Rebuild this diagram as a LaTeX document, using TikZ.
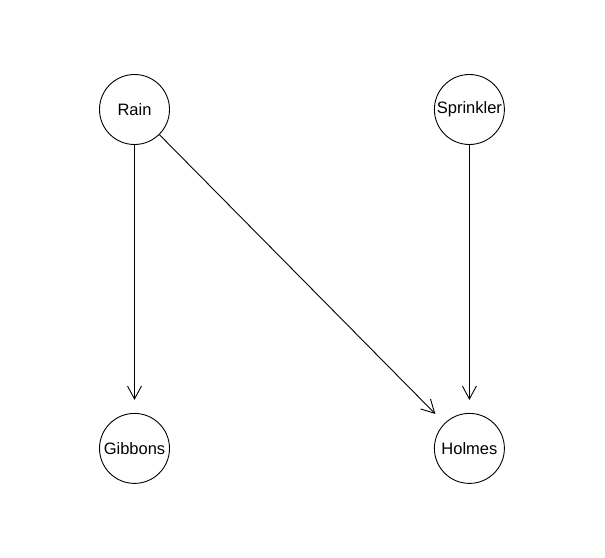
\documentclass[tikz,border=0pt]{standalone}
\usepackage{fontspec}
\setmainfont{Liberation Sans}
\usetikzlibrary{positioning,arrows.meta}

\begin{document}
\begin{tikzpicture}
[var/.style={draw,circle,line width=0.9pt,minimum size=70pt,inner sep=0pt,
    font=\fontsize{16.5}{19}\selectfont},
 dep/.style={-{Straight Barb[length=13pt,width=14pt]},line width=0.9pt,shorten >=13pt}]
\useasboundingbox (-134.5pt,-447.5pt) rectangle (470.5pt,109.5pt);
\node[var](rain) at (0,0){Rain};
\node[var, right =264pt of rain](sprinkler){Sprinkler};
\node[var, below =268pt of rain](gibbons){Gibbons};
\node[var, below =268pt of sprinkler](holmes){Holmes};
\path (rain) edge[dep] (gibbons);
\path (rain) edge[dep] (holmes);
\path (sprinkler) edge[dep] (holmes);
\end{tikzpicture}
\end{document}
